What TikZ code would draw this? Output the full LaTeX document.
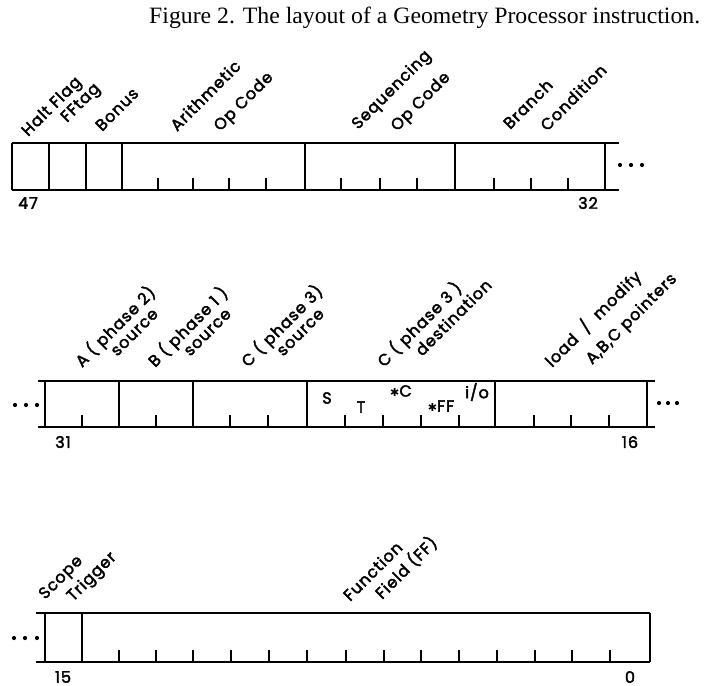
\documentclass[tikz,border=0pt]{standalone}
\usepackage{fontspec}
\setmainfont{Liberation Serif}
\newfontfamily\lettering[LetterSpace=6,FakeBold=2.5]{Poppins}
\newfontfamily\symfont{DejaVu Sans}
\begin{document}
\begin{tikzpicture}[x=1pt,y=-1pt,
  frame/.style={line width=1.3pt},
  tickmark/.style={line width=1.1pt},
  lbl/.style={font=\lettering\fontsize{16}{16}\selectfont, rotate=45, anchor=base west, inner sep=0pt},
  num/.style={font=\lettering\fontsize{16}{16}\selectfont, inner sep=0pt},
  dotmark/.style={fill=black, draw=none},
]
\useasboundingbox (0,0) rectangle (724,686);
% title
\node[anchor=base west, inner sep=0pt] (title) at (149,23)
  {\resizebox{551pt}{16.5pt}{Figure 2. The layout of a Geometry Processor instruction.}};

% ---------- row 1 (bits 47..32)
\draw[frame] (12,143) -- (619,143);
\draw[frame] (12,190) -- (619,190);
\foreach \x in {12,49,86,122,305,455,605} \draw[frame] (\x,143) -- (\x,190);
\foreach \x in {158,193,229,266,341,380,417,494,531,568} \draw[tickmark] (\x,190) -- (\x,178);
\foreach \x in {620,631,642} \fill[dotmark] (\x,165) circle (2.1);
\node[num] (n47) at (28,203) {47};
\node[num] (n32) at (588,203) {32};
\node[lbl] (halt) at (28,137) {Halt Flag};
\node[lbl] (fftag) at (67,123) {FFtag};
\node[lbl] (bonus) at (102,132) {Bonus};
\node[lbl] (arith) at (177,132) {Arithmetic};
\node[lbl] (arithop) at (220,132) {Op Code};
\node[lbl] (seq) at (358,130) {Sequencing};
\node[lbl] (seqop) at (397,132) {Op Code};
\node[lbl] (branch) at (510,130) {Branch};
\node[lbl] (cond) at (547,132) {Condition};

% ---------- row 2 (bits 31..16)
\draw[frame] (38,381) -- (655,381);
\draw[frame] (38,427) -- (655,427);
\foreach \x in {45,119,193,307,495,647} \draw[frame] (\x,381) -- (\x,427);
\foreach \x in {82,156,230,268,345,383,421,459,534,571,609} \draw[tickmark] (\x,427) -- (\x,415);
\foreach \x in {15,26,37} \fill[dotmark] (\x,405) circle (2.1);
\foreach \x in {659,668,677} \fill[dotmark] (\x,403) circle (2.1);
\node[num] (n31) at (63,442) {31};
\node[num] (n16) at (630,442) {16};
\node[lbl] (asrc) at (82,368) {A ( phase 2)};
\node[lbl] (asrc2) at (117,357) {source};
\node[lbl] (bsrc) at (155,368) {B ( phase 1 )};
\node[lbl] (bsrc2) at (190,357) {source};
\node[lbl] (csrc) at (248,368) {C ( phase 3)};
\node[lbl] (csrc2) at (283,357) {source};
\node[lbl] (cdst) at (384,368) {C ( phase 3 )};
\node[lbl] (cdst2) at (422,357) {destination};
\node[lbl] (load) at (552,368) {load\hspace{5pt} / \hspace{5pt}modify};
\node[lbl] (load2) at (592,365) {A,B,C pointers};
\node[num] (s) at (327,398) {S};
\node[num] (t) at (361,407) {T};
\node[num] (starc) at (401,391) {{\symfont\fontsize{11}{11}\selectfont ✱}C};
\node[num] (starff) at (441,406) {{\symfont\fontsize{11}{11}\selectfont ✱}FF};
\node[num] (io) at (477,392) {i/o};

% ---------- row 3 (bits 15..0)
\draw[frame] (36,613) -- (650,613);
\draw[frame] (36,662) -- (650,662);
\foreach \x in {45,82,650} \draw[frame] (\x,613) -- (\x,662);
\foreach \x in {119,156,193,231,269,307,346,384,421,459,497,535,572,610} \draw[tickmark] (\x,662) -- (\x,650);
\foreach \x in {14,25,37} \fill[dotmark] (\x,638) circle (2.1);
\node[num] (n15) at (63,677) {15};
\node[num] (n0) at (630,677) {0};
\node[lbl] (scope) at (45,600) {Scope};
\node[lbl] (trig) at (73,602) {Trigger};
\node[lbl] (func) at (350,602) {Function};
\node[lbl] (field) at (382,600) {Field (FF)};
\end{tikzpicture}
\end{document}
